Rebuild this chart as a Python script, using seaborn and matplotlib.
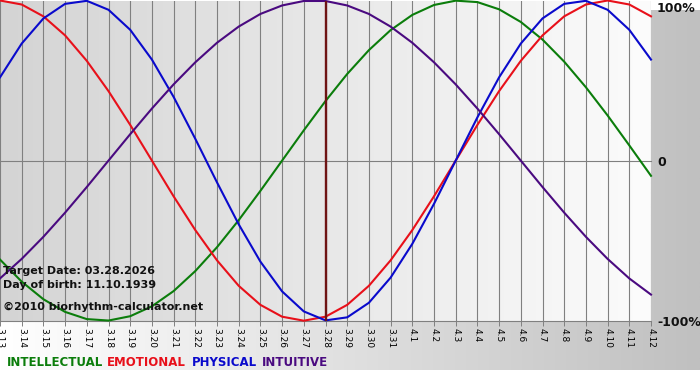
import numpy as np
import pandas as pd
import matplotlib
matplotlib.use("Agg")
import matplotlib.pyplot as plt
from matplotlib.colors import LinearSegmentedColormap
import seaborn as sns

# ---- data (percent values read per day, 3.13 .. 4.12) ----
dates = ["3.13", "3.14", "3.15", "3.16", "3.17", "3.18", "3.19", "3.20", "3.21", "3.22",
         "3.23", "3.24", "3.25", "3.26", "3.27", "3.28", "3.29", "3.30", "3.31", "4.1",
         "4.2", "4.3", "4.4", "4.5", "4.6", "4.7", "4.8", "4.9", "4.10", "4.11", "4.12"]
intellectual = [-61.8, -75.6, -86.6, -94.5, -99.0, -99.9, -97.2, -91.0, -81.5, -69.0,
                -54.1, -37.2, -18.9, 0.0, 18.9, 37.2, 54.1, 69.0, 81.5, 91.0,
                97.2, 99.9, 99.0, 94.5, 86.6, 75.6, 61.8, 45.8, 28.2, 9.5, -9.5]
emotional = [100.0, 97.5, 90.1, 78.2, 62.3, 43.4, 22.3, 0.0, -22.3, -43.4,
             -62.3, -78.2, -90.1, -97.5, -100.0, -97.5, -90.1, -78.2, -62.3, -43.4,
             -22.3, 0.0, 22.3, 43.4, 62.3, 78.2, 90.1, 97.5, 100.0, 97.5, 90.1]
physical = [52.0, 73.1, 88.8, 97.9, 99.8, 94.2, 81.7, 63.1, 39.8, 13.6,
            -13.6, -39.8, -63.1, -81.7, -94.2, -99.8, -97.9, -88.8, -73.1, -52.0,
            -27.0, 0.0, 27.0, 52.0, 73.1, 88.8, 97.9, 99.8, 94.2, 81.7, 63.1]
intuitive = [-73.6, -61.4, -47.6, -32.5, -16.5, 0.0, 16.5, 32.5, 47.6, 61.4,
             73.6, 83.7, 91.6, 96.9, 99.7, 99.7, 96.9, 91.6, 83.7, 73.6,
             61.4, 47.6, 32.5, 16.5, 0.0, -16.5, -32.5, -47.6, -61.4, -73.6, -83.7]
series_names = ["INTELLECTUAL", "EMOTIONAL", "PHYSICAL", "INTUITIVE"]
series_colors = ["#0b7d0b", "#e8101a", "#0a0acc", "#4a0a80"]
target_date = "3.28"
y_labels = ["100%", "0", "-100%"]
info_lines = ["Target Date: 03.28.2026", "Day of birth: 11.10.1939",
              "\u00a92010 biorhythm-calculator.net"]

# ---- build long table ----
rows = []
for name, vals in zip(series_names, [intellectual, emotional, physical, intuitive]):
    for i, v in enumerate(vals):
        rows.append({"day": i, "value": v, "series": name})
df = pd.DataFrame(rows)

W, H = 700, 380
fig = plt.figure(figsize=(W / 100, H / 100), dpi=100)
fig.patch.set_facecolor("white")

# background gradient (white -> gray) behind everything except bottom strip
bg = fig.add_axes([0, 10 / H, 1, 360 / H], zorder=0)
bg_cmap = LinearSegmentedColormap.from_list("bg", ["#ffffff", "#c0c0c0"])
bg.imshow(np.linspace(0, 1, 256)[None, :], aspect="auto", cmap=bg_cmap,
          extent=(0, 1, 0, 1))
bg.set_axis_off()

# main plot area
top_px, bot_px = 0.5, 320.7
ax = fig.add_axes([0, 1 - bot_px / H, 651 / W, (bot_px - top_px) / H], zorder=1)
n = len(dates)
ax.set_xlim(0, n - 1)
ax.set_ylim(-100, 100)
pl_cmap = LinearSegmentedColormap.from_list("pl", ["#d4d4d4", "#fcfcfc"])
ax.imshow(np.linspace(0, 1, 256)[None, :], aspect="auto", cmap=pl_cmap,
          extent=(0, n - 1, -100, 100), zorder=0)

ax.set_xticks(range(n))
ax.set_xticklabels(dates, rotation=-90, fontsize=6.5, family="DejaVu Sans")
ax.set_yticks([])
ax.grid(axis="x", color="#808080", linewidth=0.8, zorder=1)
ax.set_axisbelow(False)
ax.axhline(0, color="#808080", linewidth=0.8, zorder=1)
ax.tick_params(axis="x", direction="out", length=3.5, width=0.7, color="#808080",
               pad=1.5)
for s in ["top", "left", "right"]:
    ax.spines[s].set_visible(False)
ax.spines["bottom"].set_color("#808080")
ax.spines["bottom"].set_linewidth(0.8)

sns.lineplot(data=df, x="day", y="value", hue="series", hue_order=series_names,
             palette=series_colors, legend=False, ax=ax, linewidth=1.5,
             estimator=None, sort=False, zorder=3)
for ln in ax.lines:
    ln.set_clip_on(False)

ax.axvline(dates.index(target_date), color="#6e1414", linewidth=1.7, zorder=4)
ax.set_xlabel("")
ax.set_ylabel("")

# right side labels
for lab, ypx in zip(y_labels, [8, 162, 322]):
    fig.text(657 / W, 1 - ypx / H, lab, fontsize=9, fontweight="bold",
             ha="left", va="center", color="#111111")

# info text
for line, ypx in zip(info_lines, [271, 285, 307]):
    fig.text(3 / W, 1 - ypx / H, line, fontsize=8, fontweight="bold",
             ha="left", va="center", color="#111111", zorder=5)

# legend text
for name, col, xpx in zip(series_names, series_colors, [7, 107, 192, 262]):
    fig.text(xpx / W, 1 - 362 / H, name, fontsize=8.5, fontweight="bold",
             ha="left", va="center", color=col)

fig.savefig("out.png", dpi=100)
